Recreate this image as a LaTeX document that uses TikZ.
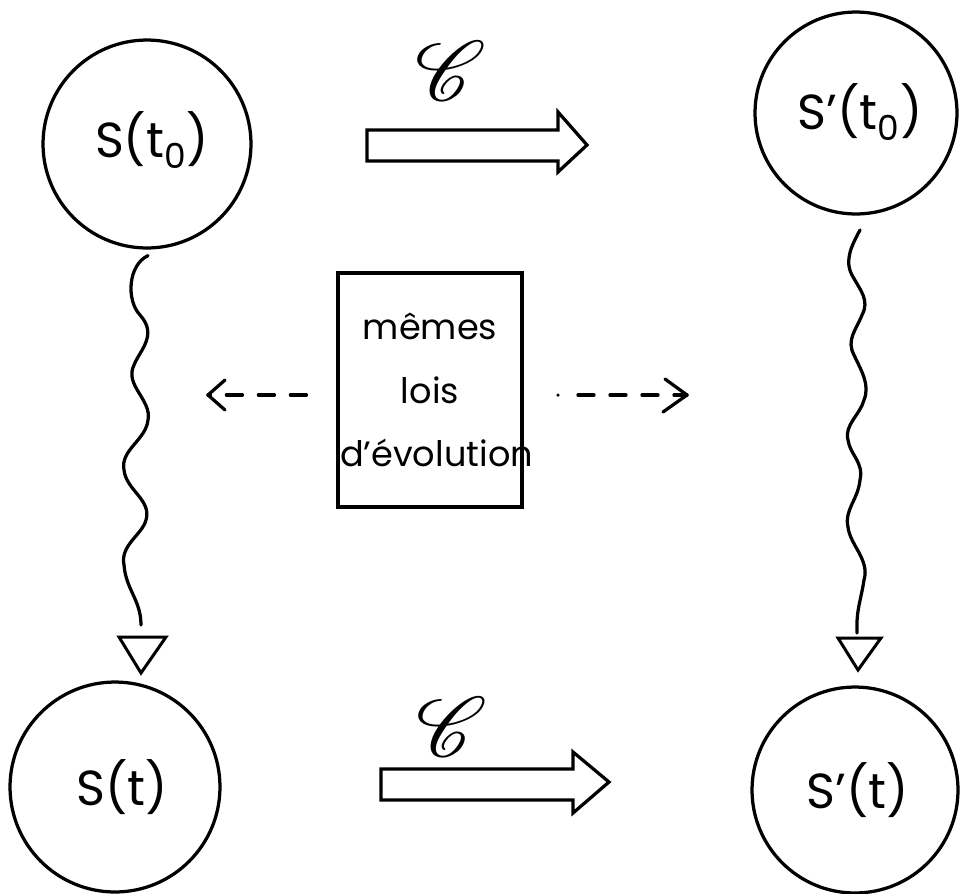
\documentclass[tikz,border=0pt]{standalone}
\usepackage{fontspec}
\usepackage{mathrsfs}
\setmainfont{Poppins}
\usetikzlibrary{arrows.meta}
\tikzset{
  state/.style={circle, draw, line width=0.065cm, inner sep=0pt},
  lbl/.style={font=\fontsize{28}{32}\selectfont},
  lawbox/.style={draw, line width=0.065cm, minimum width=3.68cm, minimum height=4.68cm, align=center,
    inner sep=0pt, text width=3.6cm, font=\fontsize{20}{36}\selectfont},
  blockarrow/.style={draw, line width=0.065cm, line join=miter},
  wave/.style={line width=0.065cm, line cap=round},
  openhead/.style={draw, line width=0.06cm, line join=miter},
  dashconn/.style={line width=0.065cm, dash pattern=on 0.32cm off 0.32cm, line cap=round},
  barb/.style={line width=0.065cm, line cap=round, line join=round},
  trans/.style={scale=4.8, inner sep=0pt}
}
\begin{document}
\begin{tikzpicture}[x=0.02cm, y=-0.02cm]
\useasboundingbox (0,0) rectangle (960,893);
% states
\node[state, minimum size=4.16cm] (s0) at (147,144) {};
\node[lbl] (s0l) at (152,140) {S(t\textsubscript{0})};
\node[state, minimum size=4.04cm] (s1) at (856,113) {};
\node[lbl] (s1l) at (860,112) {S'(t\textsubscript{0})};
\node[state, minimum size=4.2cm] (st) at (115,787) {};
\node[lbl] (stl) at (122,787) {S(t)};
\node[state, minimum size=4.12cm] (s1t) at (855,790) {};
\node[lbl] (s1tl) at (858,790) {S'(t)};
% law box
\node[lawbox] (law) at (430,390) {mêmes\\lois\\d'évolution};
% transformation labels
\node[trans] (c1) at (451,71) {$\mathscr{C}$};
\node[trans] (c2) at (452,727) {$\mathscr{C}$};
% block arrows
\draw[blockarrow] (367,130) -- (558,130) -- (558,112) -- (587,145) -- (558,172) -- (558,161) -- (367,161) -- cycle;
\draw[blockarrow] (381,769) -- (573,769) -- (573,752) -- (609,782) -- (573,813) -- (573,800) -- (381,800) -- cycle;
% wavy evolutions
\coordinate (w0end) at (141,625);
\draw[wave] (s0.south) ++(1,6) .. controls (128,265) and (126,300) .. (140,315)
  .. controls (158,335) and (140,350) .. (134,365)
  .. controls (124,385) and (152,400) .. (148,420)
  .. controls (146,440) and (120,450) .. (124,470)
  .. controls (126,490) and (152,500) .. (146,520)
  .. controls (142,535) and (120,545) .. (124,565)
  .. controls (126,590) and (141,600) .. (w0end);
\draw[openhead] (119,637) -- (166,637) -- (141,673) -- cycle;
\coordinate (w1end) at (857,633);
\draw[wave] (860,230) .. controls (852,245) and (844,260) .. (852,275)
  .. controls (860,290) and (870,300) .. (862,315)
  .. controls (856,330) and (846,340) .. (854,355)
  .. controls (862,372) and (870,385) .. (864,400)
  .. controls (860,415) and (844,425) .. (848,440)
  .. controls (850,455) and (864,462) .. (860,480)
  .. controls (858,500) and (844,510) .. (848,527)
  .. controls (850,545) and (870,560) .. (864,580)
  .. controls (861,600) and (856,610) .. (w1end);
\draw[openhead] (838,638) -- (881,638) -- (858,670) -- cycle;
% dashed correspondences
\coordinate (lt) at (208,395);
\coordinate (rt) at (687,395);
\draw[dashconn] ([xshift=-0.6cm]law.west |- lt) -- (lt);
\draw[barb] (225,380) -- (lt) -- (225,410);
\fill (558,395) circle (0.035cm);
\draw[dashconn] (578,395) -- (rt);
\draw[barb] (665,379) -- (rt) -- (663,412);
\end{tikzpicture}
\end{document}
